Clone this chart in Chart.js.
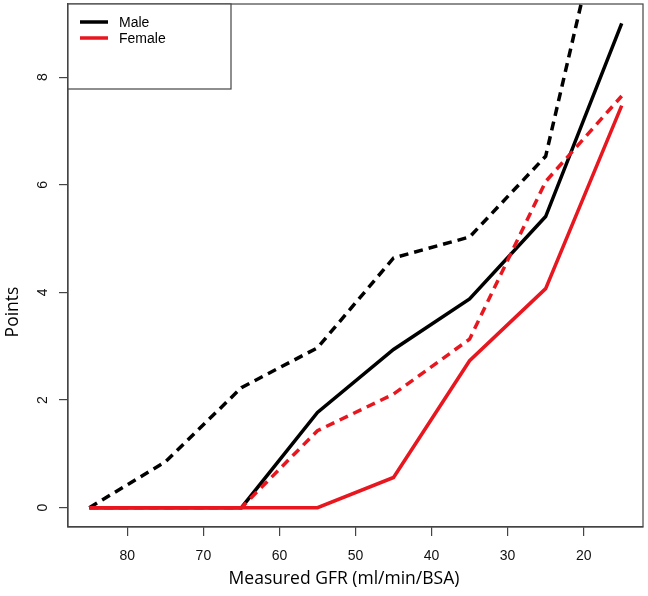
<!DOCTYPE html>
<html>
<head>
<meta charset="utf-8">
<script src="https://cdn.jsdelivr.net/npm/chart.js@4.4.0/dist/chart.umd.min.js"></script>
<style>
  html, body { margin: 0; padding: 0; background: #fff; }
  #wrap { width: 648px; height: 596px; }
</style>
</head>
<body>
<div id="wrap"><canvas id="gfrChart" width="648" height="596"></canvas></div>
<script>
// measured GFR groups and points
const gfr = [85, 75, 65, 55, 45, 35, 25, 15];
const maleSolid = [0, 0, 0, 1.77, 2.94, 3.88, 5.41, 9.0];
const maleDashed = [0, 0.85, 2.23, 2.97, 4.64, 5.03, 6.53, 12.6];
const femaleSolid = [0, 0, 0, 0, 0.56, 2.73, 4.07, 7.47];
const femaleDashed = [0, 0, 0, 1.43, 2.11, 3.13, 6.06, 7.65];
const xTicks = [80, 70, 60, 50, 40, 30, 20];
const yTicks = [0, 2, 4, 6, 8];
const legendLabels = ["Male", "Female"];

const BLACK = "#000000";
const RED = "#e8161e";
const AXIS = "#444444";

function toPoints(ys) {
  return gfr.map((x, i) => ({ x: x, y: ys[i] }));
}

// box round the plot, the legend and the two axis titles (R style)
const framePlugin = {
  id: "frame",
  afterDraw(chart) {
    const ctx = chart.ctx;
    const a = chart.chartArea;
    ctx.save();
    ctx.strokeStyle = AXIS;
    ctx.lineWidth = 1.2;
    ctx.strokeRect(a.left, a.top, a.right - a.left, a.bottom - a.top);

    // legend box
    ctx.fillStyle = "#fff";
    ctx.fillRect(a.left, a.top, 163, 85);
    ctx.strokeRect(a.left, a.top, 163, 85);
    const colors = [BLACK, RED];
    ctx.font = "14px 'Liberation Sans', Arial, sans-serif";
    ctx.textBaseline = "middle";
    ctx.textAlign = "left";
    legendLabels.forEach((lab, i) => {
      const y = a.top + 18 + i * 16;
      ctx.strokeStyle = colors[i];
      ctx.lineWidth = 3.5;
      ctx.beginPath();
      ctx.moveTo(a.left + 12, y);
      ctx.lineTo(a.left + 40, y);
      ctx.stroke();
      ctx.fillStyle = "#000";
      ctx.fillText(lab, a.left + 51, y + 1);
    });

    // axis titles
    ctx.fillStyle = "#000";
    ctx.font = "17.5px 'Open Sans', 'Noto Sans', sans-serif";
    ctx.textAlign = "center";
    ctx.textBaseline = "middle";
    ctx.fillText("Measured GFR (ml/min/BSA)", 344, 579);
    ctx.translate(13, 312);
    ctx.rotate(-Math.PI / 2);
    ctx.fillText("Points", 0, 0);
    ctx.restore();
  }
};

const ctx = document.getElementById("gfrChart").getContext("2d");
const chart = new Chart(ctx, {
  type: "line",
  data: {
    datasets: [
      {
        label: "Female",
        data: toPoints(femaleSolid),
        borderColor: RED,
        borderWidth: 3.5,
        order: 0,
      },
      {
        label: "Female (dashed)",
        data: toPoints(femaleDashed),
        borderColor: RED,
        borderWidth: 3.5,
        borderDash: [9, 6],
        order: 1,
      },
      {
        label: "Male",
        data: toPoints(maleSolid),
        borderColor: BLACK,
        borderWidth: 3.5,
        order: 2,
      },
      {
        label: "Male (dashed)",
        data: toPoints(maleDashed),
        borderColor: BLACK,
        borderWidth: 3.5,
        borderDash: [9, 6],
        order: 3,
      },
    ],
  },
  options: {
    responsive: false,
    animation: false,
    layout: { padding: { top: 4, right: 5, left: 0, bottom: 0 } },
    elements: { point: { radius: 0 }, line: { tension: 0, fill: false } },
    plugins: {
      legend: { display: false },
      tooltip: { enabled: false },
    },
    scales: {
      x: {
        type: "linear",
        reverse: true,
        min: 12.2,
        max: 87.8,
        afterBuildTicks: (s) => {
          s.ticks = xTicks.map((v) => ({ value: v }));
        },
        afterFit: (s) => {
          s.height = 69;
          s.paddingLeft = 0;
          s.paddingRight = 0;
        },
        grid: { drawOnChartArea: false, tickLength: 9, color: AXIS, lineWidth: 1.2 },
        border: { color: AXIS, width: 1.2 },
        ticks: {
          color: "#111",
          font: { family: "'Liberation Sans', Arial, sans-serif", size: 14 },
          padding: 12,
          maxRotation: 0,
        },
      },
      y: {
        type: "linear",
        min: -0.36,
        max: 9.36,
        afterBuildTicks: (s) => {
          s.ticks = yTicks.map((v) => ({ value: v }));
        },
        afterFit: (s) => {
          s.width = 68;
          s.paddingTop = 0;
          s.paddingBottom = 0;
        },
        grid: { drawOnChartArea: false, tickLength: 9, color: AXIS, lineWidth: 1.2 },
        border: { color: AXIS, width: 1.2 },
        ticks: {
          color: "#111",
          font: { family: "'Liberation Sans', Arial, sans-serif", size: 14 },
          padding: 12,
          minRotation: 90,
          maxRotation: 90,
          crossAlign: "center",
        },
      },
    },
  },
  plugins: [framePlugin],
});
</script>
</body>
</html>
